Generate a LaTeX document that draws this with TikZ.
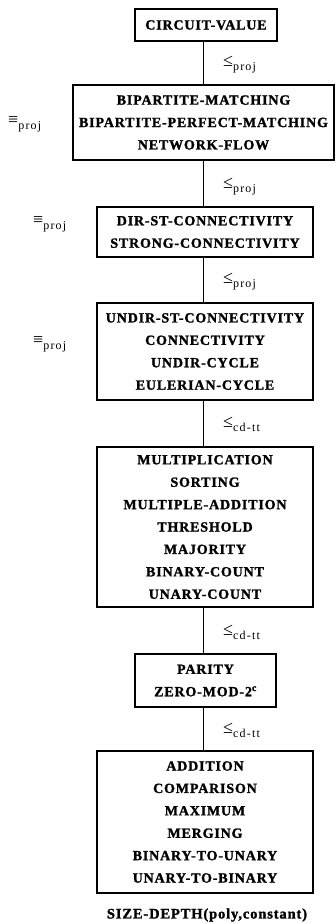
\documentclass[tikz,border=0pt]{standalone}
\usepackage{fontspec}
\setmainfont{Liberation Serif}
\newfontfamily\boxfont[LetterSpace=6, BoldFeatures={FakeBold=1.5}]{Liberation Serif}
\newfontfamily\subfont[LetterSpace=10]{Liberation Serif}
\newcommand\relsub[2]{{\fontsize{18}{18}\selectfont #1}\raisebox{-4pt}{\subfont\fontsize{12}{12}\selectfont #2}}
\tikzset{
  box/.style={draw, line width=1.3pt, inner sep=0pt, align=center,
    font=\boxfont\bfseries\fontsize{14}{22.4}\selectfont},
  rellab/.style={anchor=west, inner sep=0pt},
  conn/.style={line width=1.4pt}
}
\begin{document}
\begin{tikzpicture}[x=1pt,y=-1pt]
\useasboundingbox (0,0) rectangle (336,924);
\node[box, minimum width=142pt, minimum height=32pt] (b1) at (206,25) {CIRCUIT-VALUE};
\node[box, minimum width=261pt, minimum height=75pt] (b2) at (203.5,122.5)
  {BIPARTITE-MATCHING\\BIPARTITE-PERFECT-MATCHING\\NETWORK-FLOW};
\node[box, minimum width=216pt, minimum height=50pt] (b3) at (205,232)
  {DIR-ST-CONNECTIVITY\\STRONG-CONNECTIVITY};
\node[box, minimum width=216pt, minimum height=97pt] (b4) at (205,351.5)
  {UNDIR-ST-CONNECTIVITY\\CONNECTIVITY\\UNDIR-CYCLE\\EULERIAN-CYCLE};
\node[box, minimum width=216pt, minimum height=160pt] (b5) at (205,527)
  {MULTIPLICATION\\SORTING\\MULTIPLE-ADDITION\\THRESHOLD\\MAJORITY\\BINARY-COUNT\\UNARY-COUNT};
\node[box, minimum width=141pt, minimum height=53pt] (b6) at (205.5,680.5)
  {PARITY\\ZERO-MOD-2\textsuperscript{c}};
\node[box, minimum width=216pt, minimum height=142pt] (b7) at (205,822)
  {ADDITION\\COMPARISON\\MAXIMUM\\MERGING\\BINARY-TO-UNARY\\UNARY-TO-BINARY};
\node[inner sep=0pt, font=\boxfont\bfseries\fontsize{14.5}{14.5}\selectfont] (cap) at (207,915)
  {SIZE-DEPTH(poly,constant)};

\draw[conn] (b2.north |- b1.south) -- (b2.north);
\draw[conn] (b2.south) -- (b2.south |- b3.north);
\draw[conn] (b2.south |- b3.south) -- (b2.south |- b4.north);
\draw[conn] (b2.south |- b4.south) -- (b2.south |- b5.north);
\draw[conn] (b2.south |- b5.south) -- (b2.south |- b6.north);
\draw[conn] (b2.south |- b6.south) -- (b2.south |- b7.north);

\node[rellab] (l1) at (223,65) {\relsub{≤}{proj}};
\node[rellab] (l2) at (223,187) {\relsub{≤}{proj}};
\node[rellab] (l3) at (223,282) {\relsub{≤}{proj}};
\node[rellab] (l4) at (223,424) {\relsub{≤}{cd-tt}};
\node[rellab] (l5) at (223,632) {\relsub{≤}{cd-tt}};
\node[rellab] (l6) at (223,730) {\relsub{≤}{cd-tt}};

\node[rellab] (e1) at (8,124) {\relsub{≡}{proj}};
\node[rellab] (e2) at (33,224) {\relsub{≡}{proj}};
\node[rellab] (e3) at (33,344) {\relsub{≡}{proj}};
\end{tikzpicture}
\end{document}
